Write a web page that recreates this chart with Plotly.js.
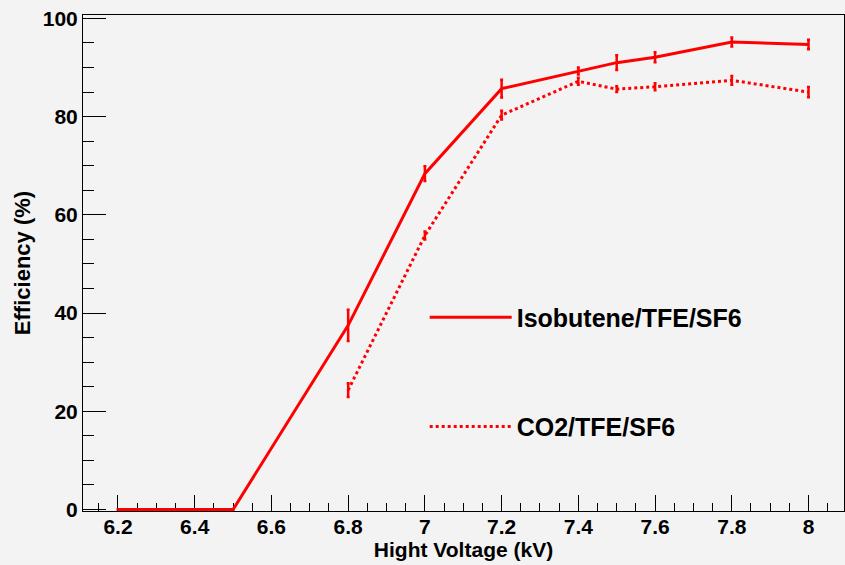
<!DOCTYPE html>
<html>
<head>
<meta charset="utf-8">
<script src="https://cdn.plot.ly/plotly-3.0.1.min.js"></script>
<style>
  html, body { margin: 0; padding: 0; background: #f3f3f3; }
  #chart { width: 845px; height: 565px; }
</style>
</head>
<body>
<div id="chart"></div>
<script>
// Isobutene/TFE/SF6 (solid)
const isoVoltage = [6.2, 6.5, 6.8, 7.0, 7.2, 7.4, 7.5, 7.6, 7.8, 8.0];
const isoEff     = [0, 0, 37.5, 68.4, 85.7, 89.3, 91.0, 92.1, 95.2, 94.7];
const isoErr     = [0, 0, 3.2, 1.5, 1.8, 0.7, 1.5, 1.0, 0.9, 0.95];

// CO2/TFE/SF6 (dotted)
const co2Voltage = [6.8, 7.0, 7.2, 7.4, 7.5, 7.6, 7.8, 8.0];
const co2Eff     = [24.3, 55.8, 80.3, 87.2, 85.6, 86.1, 87.4, 85.0];
const co2Err     = [1.4, 0.8, 0.9, 0.7, 0.6, 0.7, 0.9, 1.05];

const seriesNames = ["Isobutene/TFE/SF6", "CO2/TFE/SF6"];
const xTickVals = [6.2, 6.4, 6.6, 6.8, 7.0, 7.2, 7.4, 7.6, 7.8, 8.0];
const xTickText = ["6.2", "6.4", "6.6", "6.8", "7", "7.2", "7.4", "7.6", "7.8", "8"];
const yTickVals = [0, 20, 40, 60, 80, 100];

const RED = "#ff0000";
const FONT = "Liberation Sans, Arial, Helvetica, sans-serif";

const traces = [
  {
    x: isoVoltage, y: isoEff, name: seriesNames[0], type: "scatter", mode: "lines",
    line: { color: RED, width: 3 },
    error_y: { type: "data", array: isoErr, visible: true, color: RED, thickness: 2.5, width: 1.5 },
    legend: "legend"
  },
  {
    x: co2Voltage, y: co2Eff, name: seriesNames[1], type: "scatter", mode: "lines",
    line: { color: RED, width: 3, dash: "dot" },
    error_y: { type: "data", array: co2Err, visible: true, color: RED, thickness: 2.5, width: 1.5 },
    legend: "legend2"
  }
];

const legendCommon = {
  bgcolor: "rgba(0,0,0,0)", borderwidth: 0, itemwidth: 82,
  font: { family: FONT, size: 25, color: "#000", weight: "bold" },
  xanchor: "left", yanchor: "middle"
};

const layout = {
  width: 845, height: 565,
  paper_bgcolor: "#f3f3f3", plot_bgcolor: "#f3f3f3",
  margin: { l: 83, r: 1, t: 15, b: 54, pad: 0 },
  font: { family: FONT, size: 20, color: "#000", weight: "bold" },
  showlegend: true,
  legend: Object.assign({ x: 0.449, y: 0.39 }, legendCommon),
  legend2: Object.assign({ x: 0.449, y: 0.17 }, legendCommon),
  xaxis: {
    range: [6.1088, 8.0925],
    tickmode: "array", tickvals: xTickVals, ticktext: xTickText,
    ticks: "inside", ticklen: 16, tickwidth: 1, tickcolor: "#000",
    minor: { ticks: "inside", dtick: 0.05, ticklen: 8, tickwidth: 1, tickcolor: "#000", showgrid: false },
    showline: true, linecolor: "#000", linewidth: 1, mirror: true,
    showgrid: false, zeroline: false,
    ticklabelstandoff: -3,
    tickfont: { family: FONT, size: 21, color: "#000", weight: "bold" },
    title: { text: "Hight Voltage (kV)", font: { family: FONT, size: 21, color: "#000", weight: "bold" }, standoff: 4 },
    layer: "below traces"
  },
  yaxis: {
    range: [-0.3, 100.7],
    tickmode: "array", tickvals: yTickVals,
    ticks: "inside", ticklen: 23, tickwidth: 1, tickcolor: "#000",
    minor: { ticks: "inside", dtick: 5, ticklen: 11, tickwidth: 1, tickcolor: "#000", showgrid: false },
    showline: true, linecolor: "#000", linewidth: 1, mirror: true,
    showgrid: false, zeroline: false,
    tickfont: { family: FONT, size: 21, color: "#000", weight: "bold" },
    title: { text: "Efficiency (%)", font: { family: FONT, size: 22, color: "#000", weight: "bold" }, standoff: 6 },
    layer: "below traces"
  }
};

Plotly.newPlot("chart", traces, layout, { displayModeBar: false, staticPlot: true });
</script>
</body>
</html>
